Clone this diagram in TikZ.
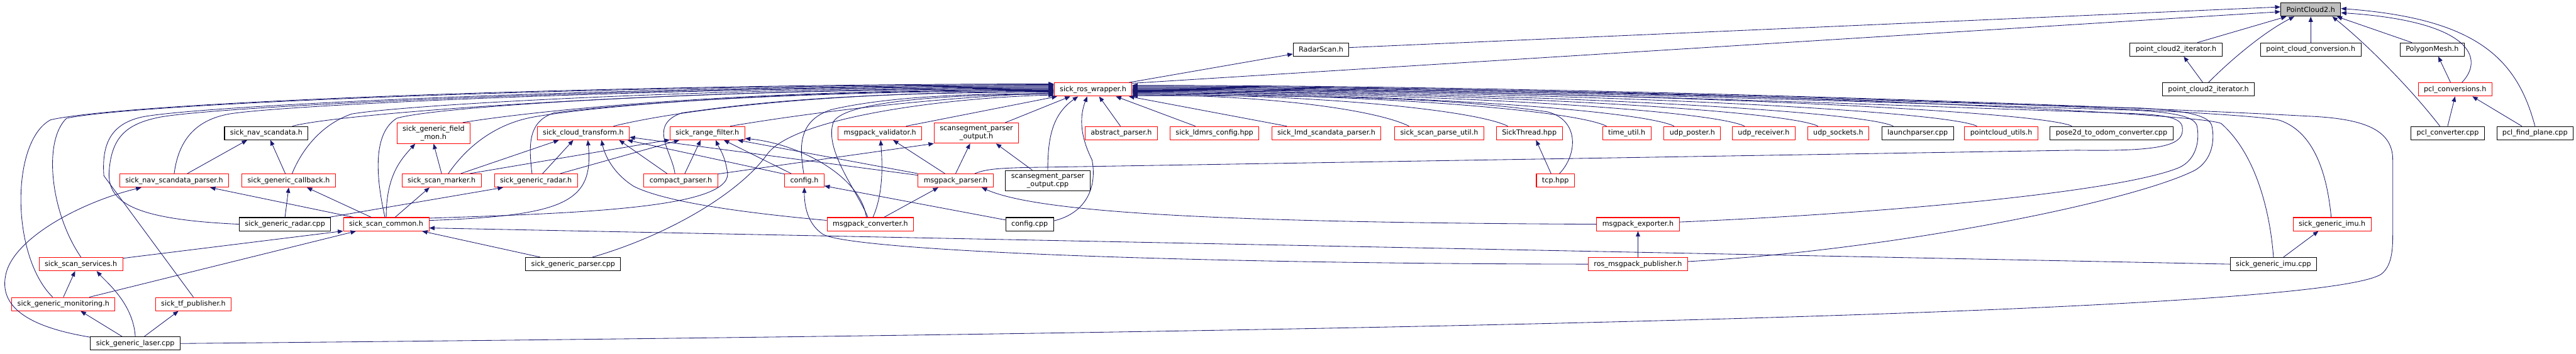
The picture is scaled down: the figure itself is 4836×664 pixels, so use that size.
\documentclass[tikz,border=0pt]{standalone}
\usepackage{fontspec}
\newfontfamily\filefont{DejaVu Sans}
\usetikzlibrary{arrows.meta}
\definecolor{edgeblue}{HTML}{191970}
\definecolor{rootgray}{HTML}{BFBFBF}
\tikzset{
  file/.style={draw=black, line width=0.6pt, fill=white, inner xsep=5.3pt, inner ysep=2.6pt,
    minimum height=12.5pt, align=center, font=\filefont\fontsize{6.6}{7.6}\selectfont},
  trunc/.style={file, draw=red},
  root/.style={file, fill=rootgray},
  incl/.style={draw=edgeblue, line width=0.5pt, -{Triangle[length=5pt,width=4pt]}},
}
\begin{document}
\begin{tikzpicture}[x=0.5pt,y=-0.5pt]
\useasboundingbox (0,0) rectangle (4836,664);
% files
\node[root] (pc2) at (4338,18) {PointCloud2.h};
\node[file] (radarscan) at (2480,93) {RadarScan.h};
\node[file] (pciterA) at (4085,93) {point\_cloud2\_iterator.h};
\node[file] (pcconv) at (4338,93) {point\_cloud\_conversion.h};
\node[file] (polymesh) at (4566,93) {PolygonMesh.h};
\node[trunc] (wrapper) at (2052,168) {sick\_ros\_wrapper.h};
\node[file] (pciterB) at (4146,168) {point\_cloud2\_iterator.h};
\node[trunc] (pclconv) at (4609,168) {pcl\_conversions.h};
\node[file] (navscan) at (500,250) {sick\_nav\_scandata.h};
\node[trunc] (fieldmon) at (814,250) {sick\_generic\_field\\\_mon.h};
\node[trunc] (segout) at (1833,250) {scansegment\_parser\\\_output.h};
\foreach \nm/\st/\xx/\txt in {cloudtf/trunc/1095/sick\_cloud\_transform.h, rangefilt/trunc/1328/sick\_range\_filter.h,
    validator/trunc/1652/msgpack\_validator.h, abstract/trunc/2105/abstract\_parser.h,
    ldmrs/trunc/2280/sick\_ldmrs\_config.hpp, lmd/trunc/2490/sick\_lmd\_scandata\_parser.h,
    parseutil/trunc/2702/sick\_scan\_parse\_util.h, sickthread/trunc/2871/SickThread.hpp,
    timeutil/trunc/3054/time\_util.h, udpposter/trunc/3177/udp\_poster.h, udprecv/trunc/3311/udp\_receiver.h,
    udpsock/trunc/3451/udp\_sockets.h, launch/file/3600/launchparser.cpp, pcutils/trunc/3757/pointcloud\_utils.h,
    pose2d/file/3964/pose2d\_to\_odom\_converter.cpp, pclconverter/file/4595/pcl\_converter.cpp,
    pclplane/file/4759/pcl\_find\_plane.cpp}
  \node[\st] (\nm) at (\xx,250) {\txt};
\foreach \nm/\xx/\txt in {navparser/327/sick\_nav\_scandata\_parser.h, callback/542/sick\_generic\_callback.h,
    marker/829/sick\_scan\_marker.h, radar/1006/sick\_generic\_radar.h, compact/1278/compact\_parser.h,
    config/1510/config.h, msgparser/1794/msgpack\_parser.h, tcp/2920/tcp.hpp}
  \node[trunc] (\nm) at (\xx,339) {\txt};
\node[file] (segoutcpp) at (1967,339) {scansegment\_parser\\\_output.cpp};
\node[file] (radarcpp) at (535,421) {sick\_generic\_radar.cpp};
\node[trunc] (common) at (725,421) {sick\_scan\_common.h};
\node[trunc] (converter) at (1634,421) {msgpack\_converter.h};
\node[file] (configcpp) at (1933,421) {config.cpp};
\node[trunc] (exporter) at (3075,421) {msgpack\_exporter.h};
\node[trunc] (imuh) at (4378,421) {sick\_generic\_imu.h};
\node[trunc] (services) at (152,496) {sick\_scan\_services.h};
\node[file] (parsercpp) at (1076,496) {sick\_generic\_parser.cpp};
\node[trunc] (publisher) at (3075,496) {ros\_msgpack\_publisher.h};
\node[file] (imucpp) at (4268,496) {sick\_generic\_imu.cpp};
\node[trunc] (monitoring) at (119,571) {sick\_generic\_monitoring.h};
\node[trunc] (tfpub) at (363,571) {sick\_tf\_publisher.h};
\node[file] (laser) at (254,645) {sick\_generic\_laser.cpp};

% into PointCloud2.h
\draw[incl] (radarscan.4) -- (pc2.175);
\draw[incl] (wrapper.9) -- (pc2.184);
\draw[incl] (pciterA.18) -- (pc2.196);
\draw[incl] (pciterB.north) .. controls (4185,115) and (4250,60) .. (pc2.203);
\draw[incl] (pcconv.north) -- (pc2.south);
\draw[incl] (polymesh.161) -- (pc2.-15);
\draw[incl] (pclconverter.138) .. controls (4525,165) and (4440,80) .. (pc2.-18);
\draw[incl] (pclconv.46) .. controls (4665,110) and (4640,40) .. (pc2.-6);
\draw[incl] (pclplane.north) .. controls (4725,110) and (4650,35) .. (pc2.2);
\draw[incl] (pciterB.129) -- (pciterA.-42);
\draw[incl] (pclconv.123) -- (polymesh.-49);
\draw[incl] (pclconverter.north) -- (pclconv.south);
\draw[incl] (pclplane.152) -- (pclconv.-22);
\draw[incl] (wrapper.11) -- (radarscan.189);

% into sick_ros_wrapper.h, left side
\draw[incl] (monitoring.147) .. controls (20,480) and (20,265) .. (95,225) .. controls (250,190) and +(-800,0) .. (wrapper.172);
\draw[incl] (services.north) .. controls (95,400) and (80,265) .. (125,222) .. controls (270,192) and +(-800,0) .. (wrapper.173);
\draw[incl] (tfpub.north) -- (195,330) .. controls (190,262) and (215,232) .. (265,220) .. controls (370,198) and +(-800,0) .. (wrapper.174);
\draw[incl] (radarcpp.west) .. controls (250,412) and (200,380) .. (205,320) .. controls (210,255) and (240,232) .. (300,220) .. controls (420,198) and +(-750,0) .. (wrapper.175);
\draw[incl] (navparser.north) .. controls (335,265) and (365,226) .. (430,214) .. controls (540,196) and +(-700,0) .. (wrapper.176);
\draw[incl] (callback.64) .. controls (565,285) and (600,235) .. (660,214) .. controls (760,197) and +(-650,0) .. (wrapper.177);
\draw[incl] (navscan.15) .. controls (640,212) and +(-700,0) .. (wrapper.178);
\draw[incl] (common.100) .. controls (705,330) and (700,250) .. (745,222) .. controls (820,200) and +(-650,0) .. (wrapper.179);
\draw[incl] (fieldmon.20) .. controls (960,215) and +(-650,0) .. (wrapper.180);
\draw[incl] (marker.46) .. controls (880,270) and (935,232) .. (1000,220) .. controls (1100,202) and +(-550,0) .. (wrapper.181);
\draw[incl] (radar.119) .. controls (992,270) and (992,228) .. (1040,212) .. controls (1150,197) and +(-500,0) .. (wrapper.182);
\draw[incl] (cloudtf.13) .. controls (1260,210) and +(-450,0) .. (wrapper.183);
\draw[incl] (compact.130) .. controls (1262,285) and (1215,235) .. (1280,212) .. controls (1400,195) and +(-400,0) .. (wrapper.184);
\draw[incl] (rangefilt.17) .. controls (1500,215) and +(-250,10) .. (wrapper.185);
\draw[incl] (config.95) .. controls (1502,280) and (1495,228) .. (1560,206) .. controls (1650,185) and +(-200,0) .. (wrapper.186);
\draw[incl] (converter.110) .. controls (1610,360) and (1545,280) .. (1565,228) .. controls (1590,190) and +(-200,0) .. (wrapper.187);
\draw[incl] (parsercpp.20) .. controls (1260,440) and (1390,360) .. (1440,290) .. controls (1490,220) and +(-200,5) .. (wrapper.188);
\draw[incl] (validator.15) -- (wrapper.191);
\draw[incl] (segout.20) -- (wrapper.197);
\draw[incl] (segoutcpp.north) .. controls (1967,260) and (1975,215) .. (wrapper.205);
\draw[incl] (configcpp.8) .. controls (2040,400) and (2060,350) .. (2050,300) .. controls (2025,250) and (2028,215) .. (wrapper.230);
\draw[incl] (abstract.97) -- (wrapper.-49);
\draw[incl] (ldmrs.160) -- (wrapper.-17);
\draw[incl] (lmd.170) -- (wrapper.-11);

% into sick_ros_wrapper.h, right side
\foreach \nm/\aa/\ll/\tt in {parseutil/167/260/-8, sickthread/162/350/-7, timeutil/161/450/-6,
    udpposter/159/500/-5, udprecv/160/570/-4, udpsock/161/640/-3, launch/164/700/-2,
    pcutils/164/800/-1, pose2d/170/880/0}
  \draw[incl] (\nm.\aa) .. controls +(-60,-30) and +(\ll,0) .. (wrapper.\tt);
\draw[incl] (tcp.60) .. controls (2962,290) and (2965,225) .. (2905,210) .. controls (2700,180) and +(300,0) .. (wrapper.-9);
\draw[incl] (msgparser.20) .. controls (1850,318) and (1870,315) .. (1960,314) -- (3900,282) .. controls (4070,285) and (4100,270) .. (4097,240) .. controls (4096,222) and (4070,216) .. (4000,213) .. controls (3600,200) and +(700,0) .. (wrapper.1);
\draw[incl] (exporter.3) .. controls (3550,400) and (3980,360) .. (4090,315) .. controls (4125,300) and (4130,260) .. (4124,235) .. controls (4118,220) and (4090,212) .. (4010,207) .. controls (3600,195) and +(700,0) .. (wrapper.2);
\draw[incl] (publisher.3) .. controls (3550,470) and (4000,380) .. (4120,320) .. controls (4155,300) and (4158,260) .. (4152,235) .. controls (4146,218) and (4110,208) .. (4020,203) .. controls (3600,192) and +(700,0) .. (wrapper.3);
\draw[incl] (imuh.97) .. controls (4370,340) and (4350,250) .. (4280,226) .. controls (4200,205) and +(900,0) .. (wrapper.4);
\draw[incl] (imucpp.north) .. controls (4262,400) and (4236,290) .. (4170,232) .. controls (4130,210) and +(900,0) .. (wrapper.5);
\draw[incl] (laser.east) .. controls (2500,625) and (4350,590) .. (4470,515) .. controls (4490,500) and (4492,470) .. (4492,440) -- (4492,300) .. controls (4492,240) and (4430,222) .. (4330,218) .. controls (4100,205) and +(900,0) .. (wrapper.6);

% left half
\draw[incl] (navparser.28) -- (navscan.200);
\draw[incl] (callback.116) -- (navscan.-60);
\draw[incl] (marker.north) -- (fieldmon.south);
\draw[incl] (common.north) .. controls (725,330) and (752,300) .. (fieldmon.210);
\draw[incl] (common.168) -- (navparser.-11);
\draw[incl] (common.155) -- (callback.-21);
\draw[incl] (common.38) -- (marker.210);
\draw[incl] (radarcpp.north) -- (callback.south);
\draw[incl] (radarcpp.9) -- (radar.192);
\draw[incl] (services.8) -- (common.189);
\draw[incl] (monitoring.north) -- (services.230);
\draw[incl] (monitoring.15) -- (common.193);
\draw[incl] (parsercpp.168) -- (common.-11);
\draw[incl] (imucpp.west) -- (common.-5);
\draw[incl] (laser.152) -- (monitoring.-22);
\draw[incl] (laser.north) .. controls (250,570) and (200,530) .. (services.-24);
\draw[incl] (laser.38) -- (tfpub.205);
\draw[incl] (laser.172) .. controls (60,615) and (0,580) .. (10,520) .. controls (20,450) and (150,380) .. (navparser.192);

% middle
\draw[incl] (marker.14) -- (rangefilt.190);
\draw[incl] (radar.16) -- (rangefilt.194);
\draw[incl] (marker.20) -- (cloudtf.196);
\draw[incl] (radar.46) -- (cloudtf.215);
\draw[incl] (common.5) .. controls (1060,405) and (1115,380) .. (cloudtf.-57);
\draw[incl] (common.8) .. controls (1100,400) and (1385,390) .. (1365,320) .. controls (1360,290) and (1350,278) .. (rangefilt.-40);
\draw[incl] (converter.175) .. controls (1400,400) and (1250,380) .. (1190,350) .. controls (1150,325) and (1135,290) .. (cloudtf.-21);
\draw[incl] (converter.120) .. controls (1615,330) and (1500,270) .. (rangefilt.-8);
\draw[incl] (compact.60) -- (rangefilt.226);
\draw[incl] (compact.153) -- (cloudtf.-11);
\draw[incl] (compact.10) -- (segout.south west);
\draw[incl] (config.152) -- (rangefilt.-23);
\draw[incl] (config.162) -- (cloudtf.-9);
\draw[incl] (msgparser.north west) -- (rangefilt.-13);
\draw[incl] (msgparser.172) -- (cloudtf.-5);
\draw[incl] (converter.27) -- (msgparser.202);
\draw[incl] (converter.70) .. controls (1660,360) and (1656,300) .. (validator.-85);
\draw[incl] (msgparser.147) -- (validator.-28);
\draw[incl] (msgparser.north) -- (segout.239);
\draw[incl] (segoutcpp.146) -- (segout.-28);
\draw[incl] (exporter.west) .. controls (2300,418) and (1950,400) .. (msgparser.-15);
\draw[incl] (configcpp.170) -- (config.-15);
\draw[incl] (publisher.west) .. controls (2200,495) and (1600,470) .. (1545,440) .. controls (1515,420) and (1510,385) .. (config.south);
\draw[incl] (publisher.north) -- (exporter.south);
\draw[incl] (tcp.122) -- (sickthread.-46);
\draw[incl] (imucpp.35) -- (imuh.207);
\end{tikzpicture}
\end{document}
